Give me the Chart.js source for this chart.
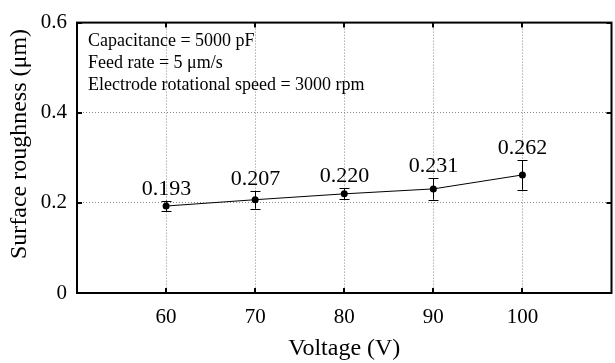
<!DOCTYPE html>
<html>
<head>
<meta charset="utf-8">
<script src="https://cdn.jsdelivr.net/npm/chart.js@4"></script>
<style>
  html, body { margin: 0; padding: 0; background: #fff; }
  #wrap { width: 615px; height: 363px; }
</style>
</head>
<body>
<div id="wrap"><canvas id="c" width="615" height="363"></canvas></div>
<script>
const voltages = [60, 70, 80, 90, 100];
const roughness = [0.193, 0.207, 0.220, 0.231, 0.262];
const errors = [0.012, 0.020, 0.012, 0.024, 0.033];
const valueLabels = ['0.193', '0.207', '0.220', '0.231', '0.262'];
const xTickValues = [60, 70, 80, 90, 100];
const yTickValues = [0, 0.2, 0.4, 0.6];
const yTickLabels = ['0', '0.2', '0.4', '0.6'];
const notes = ['Capacitance = 5000 pF', 'Feed rate = 5 \u03bcm/s', 'Electrode rotational speed = 3000 rpm'];
const xTitle = 'Voltage (V)';
const yTitle = 'Surface roughness (\u03bcm)';

const FONT = '"Liberation Serif", "Times New Roman", serif';

const overlay = {
  id: 'overlay',
  afterDatasetsDraw(chart) {
    const ctx = chart.ctx;
    const xs = chart.scales.x, ys = chart.scales.y;
    ctx.save();
    ctx.strokeStyle = '#000';
    ctx.lineWidth = 1;
    voltages.forEach((v, i) => {
      const px = Math.round(xs.getPixelForValue(v)) + 0.5;
      const top = ys.getPixelForValue(roughness[i] + errors[i]);
      const bot = ys.getPixelForValue(roughness[i] - errors[i]);
      ctx.beginPath();
      ctx.moveTo(px, top); ctx.lineTo(px, bot);
      ctx.moveTo(px - 5, Math.round(top) + 0.5); ctx.lineTo(px + 5, Math.round(top) + 0.5);
      ctx.moveTo(px - 5, Math.round(bot) + 0.5); ctx.lineTo(px + 5, Math.round(bot) + 0.5);
      ctx.stroke();
      ctx.fillStyle = '#000';
      ctx.font = '22px ' + FONT;
      ctx.textAlign = 'center';
      ctx.textBaseline = 'alphabetic';
      ctx.fillText(valueLabels[i], px, top - 6);
    });
    ctx.restore();
  },
  afterDraw(chart) {
    const ctx = chart.ctx;
    const xs = chart.scales.x, ys = chart.scales.y;
    const a = chart.chartArea;
    ctx.save();
    ctx.strokeStyle = '#000';
    ctx.lineWidth = 2;
    ctx.strokeRect(a.left, a.top, a.right - a.left, a.bottom - a.top);
    ctx.beginPath();
    xTickValues.forEach(v => {
      const px = Math.round(xs.getPixelForValue(v));
      ctx.moveTo(px, a.bottom); ctx.lineTo(px, a.bottom - 5);
      ctx.moveTo(px, a.top); ctx.lineTo(px, a.top + 5);
    });
    yTickValues.forEach(v => {
      const py = Math.round(ys.getPixelForValue(v));
      ctx.moveTo(a.left, py); ctx.lineTo(a.left + 5, py);
      ctx.moveTo(a.right, py); ctx.lineTo(a.right - 5, py);
    });
    ctx.stroke();
    ctx.fillStyle = '#000';
    ctx.font = '18px ' + FONT;
    ctx.textAlign = 'left';
    ctx.textBaseline = 'alphabetic';
    notes.forEach((t, i) => ctx.fillText(t, a.left + 11, a.top + 23 + i * 22));
    // y axis title
    ctx.save();
    ctx.translate(20, 144);
    ctx.rotate(-Math.PI / 2);
    ctx.font = '24px ' + FONT;
    ctx.textAlign = 'center';
    ctx.textBaseline = 'middle';
    ctx.fillText(yTitle, 0, 0);
    ctx.restore();
    ctx.restore();
  }
};

new Chart(document.getElementById('c'), {
  type: 'scatter',
  data: {
    datasets: [{
      data: voltages.map((v, i) => ({ x: v, y: roughness[i] })),
      showLine: true,
      borderColor: '#000',
      borderWidth: 1,
      backgroundColor: '#000',
      pointRadius: 3.5,
      pointHoverRadius: 3.5,
      pointBorderWidth: 0
    }]
  },
  options: {
    responsive: false,
    animation: false,
    events: [],
    layout: { padding: { top: 16, right: 1, left: 0, bottom: 0 } },
    plugins: { legend: { display: false }, tooltip: { enabled: false } },
    scales: {
      x: {
        type: 'linear',
        min: 50, max: 110,
        afterBuildTicks: axis => { axis.ticks = xTickValues.map(v => ({ value: v })); },
        afterFit: axis => { axis.height = 70; },
        grid: { color: '#8a8a8a', lineWidth: 1, drawTicks: false },
        border: { display: false, dash: [1, 2] },
        ticks: { color: '#000', font: { family: FONT, size: 21 }, padding: 12, maxRotation: 0 },
        title: { display: true, text: xTitle, color: '#000', font: { family: FONT, size: 24 }, padding: { top: 0, bottom: 0 } }
      },
      y: {
        type: 'linear',
        min: 0, max: 0.6,
        afterBuildTicks: axis => { axis.ticks = yTickValues.map(v => ({ value: v })); },
        afterFit: axis => { axis.width = 77; },
        grid: { color: '#8a8a8a', lineWidth: 1, drawTicks: false },
        border: { display: false, dash: [1, 2] },
        ticks: {
          color: '#000', font: { family: FONT, size: 21 }, padding: 10,
          callback: (v) => { const k = yTickValues.indexOf(v); return k >= 0 ? yTickLabels[k] : ''; }
        },
        title: { display: false }
      }
    }
  },
  plugins: [overlay]
});
</script>
</body>
</html>
